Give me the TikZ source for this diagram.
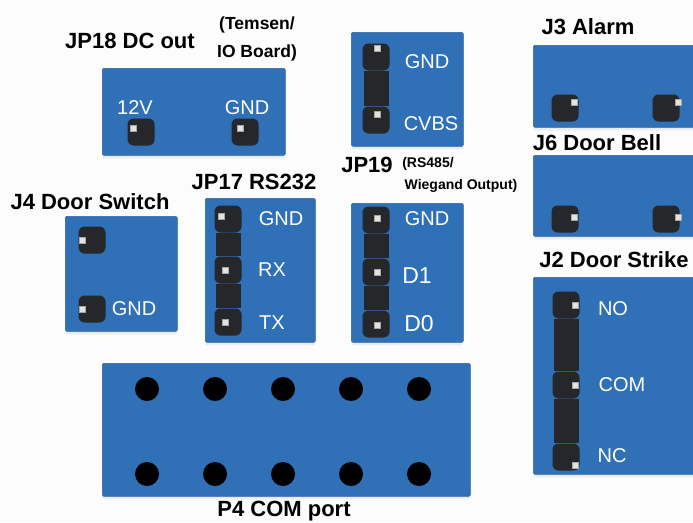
\documentclass[tikz,border=0pt]{standalone}
\usepackage{fontspec}
\setmainfont{Liberation Sans}
\usetikzlibrary{shadows}
\definecolor{boardblue}{HTML}{2F70B6}
\definecolor{headerblack}{HTML}{26272A}
\definecolor{pageback}{HTML}{FCFCFC}
\definecolor{tipgrey}{HTML}{E4E2DA}

\tikzset{
  board/.style={draw=boardblue!90!black, line width=0.6pt, fill=boardblue, rounded corners=1.5pt, anchor=north west, inner sep=0pt,
    drop shadow={opacity=0.12, shadow xshift=0pt, shadow yshift=-3pt}},
  header/.style={fill=headerblack, rounded corners=6pt, minimum width=27pt, minimum height=27pt, inner sep=0pt},
  pintip/.style={fill=tipgrey, draw=gray!70, line width=0.5pt, minimum size=6.5pt, inner sep=0pt},
  jumperbar/.style={draw=headerblack, line width=25pt},
  hole/.style={circle, fill=black, minimum size=24pt, inner sep=0pt},
  portname/.style={text=white, font=\fontsize{20}{20}\selectfont, inner sep=0pt},
  bigname/.style={text=black, font=\fontsize{22}{22}\selectfont\bfseries, inner sep=0pt},
  midname/.style={text=black, font=\fontsize{17.5}{17.5}\selectfont\bfseries, inner sep=0pt},
  smallname/.style={text=black, font=\fontsize{14}{14}\selectfont\bfseries, inner sep=0pt}
}

\begin{document}
\begin{tikzpicture}[x=1pt, y=-1pt]
  \useasboundingbox[fill=pageback] (0,0) rectangle (693,522);

  % JP18
  \node[board, minimum width=183pt, minimum height=87pt] (JP18) at (102,68) {};
  \node[header] (JP18V) at (141,132) {};
  \node[header] (JP18G) at (245,132) {};
  \node[pintip] (JP18VTip) at (133,128) {};
  \node[pintip] (JP18GTip) at (240,128) {};
  \node[portname] (JP18VText) at (135,108) {12V};
  \node[portname] (JP18GText) at (247,108) {GND};
  \node[bigname] (JP18Name) at (130,41) {JP18 DC out};
  \node[midname] (JP18NoteA) at (257,25) {(Temsen/};
  \node[midname] (JP18NoteB) at (257,53) {IO Board)};

  % JP19 upper
  \node[board, minimum width=112pt, minimum height=114pt] (JP19) at (351,32) {};
  \node[header] (JP19G) at (376,57) {};
  \node[header] (JP19C) at (376,120) {};
  \draw[jumperbar] (JP19G) -- (JP19C);
  \node[pintip] (JP19GTip) at (377,48) {};
  \node[pintip] (JP19CTip) at (377,114) {};
  \node[portname] (JP19GText) at (427,62) {GND};
  \node[portname] (JP19CText) at (431,124) {CVBS};
  \node[bigname] (JP19Name) at (367,165) {JP19};
  \node[smallname] (JP19NoteA) at (428,164) {(RS485/};
  \node[smallname] (JP19NoteB) at (461,186) {Wiegand Output)};

  % JP19 lower
  \node[board, minimum width=112pt, minimum height=139pt] (JPW) at (351,203) {};
  \node[header] (JPWG) at (376,220) {};
  \node[header] (JPWA) at (376,272) {};
  \node[header] (JPWB) at (376,324) {};
  \draw[jumperbar] (JPWG) -- (JPWA);
  \draw[jumperbar] (JPWA) -- (JPWB);
  \node[pintip] (JPWGTip) at (377,218) {};
  \node[pintip] (JPWATip) at (377,272) {};
  \node[pintip] (JPWBTip) at (377,325) {};
  \node[portname] (JPWGText) at (427,219) {GND};
  \node[portname, font=\fontsize{23}{23}\selectfont] (JPWAText) at (417,276) {D1};
  \node[portname, font=\fontsize{23}{23}\selectfont] (JPWBText) at (419,324) {D0};

  % JP17
  \node[board, minimum width=110pt, minimum height=144pt] (JP17) at (205,198) {};
  \node[header] (JP17G) at (228,219) {};
  \node[header] (JP17R) at (228,270) {};
  \node[header] (JP17T) at (228,322) {};
  \draw[jumperbar] (JP17G) -- (JP17R);
  \draw[jumperbar] (JP17R) -- (JP17T);
  \node[pintip] (JP17GTip) at (221,216) {};
  \node[pintip] (JP17RTip) at (225,270) {};
  \node[pintip] (JP17TTip) at (225,322) {};
  \node[portname] (JP17GText) at (281,219) {GND};
  \node[portname] (JP17RText) at (272,270) {RX};
  \node[portname] (JP17TText) at (272,323) {TX};
  \node[bigname] (JP17Name) at (254,182) {JP17 RS232};

  % J4
  \node[board, minimum width=112pt, minimum height=115pt] (J4) at (65,216) {};
  \node[header] (J4A) at (92,240) {};
  \node[header] (J4G) at (92,309) {};
  \node[pintip] (J4ATip) at (82,240) {};
  \node[pintip] (J4GTip) at (82,309) {};
  \node[portname] (J4GText) at (134,309) {GND};
  \node[bigname] (J4Name) at (90,202) {J4 Door Switch};

  % P4
  \node[board, minimum width=368pt, minimum height=133pt] (P4) at (102,363) {};
  \node[hole] (P4A) at (147,389) {};
  \node[hole] (P4B) at (215,389) {};
  \node[hole] (P4C) at (283,389) {};
  \node[hole] (P4D) at (351,389) {};
  \node[hole] (P4E) at (419,389) {};
  \node[hole] (P4F) at (147,474) {};
  \node[hole] (P4G) at (215,474) {};
  \node[hole] (P4H) at (283,474) {};
  \node[hole] (P4I) at (351,474) {};
  \node[hole] (P4J) at (419,474) {};
  \node[bigname] (P4Name) at (284,511) {P4 COM port};

  % J3
  \node[board, minimum width=165pt, minimum height=82pt] (J3) at (533,45) {};
  \node[header] (J3A) at (565,108) {};
  \node[header] (J3B) at (666,108) {};
  \node[pintip] (J3ATip) at (574,102) {};
  \node[pintip] (J3BTip) at (678,102) {};
  \node[bigname] (J3Name) at (588,27) {J3 Alarm};

  % J6
  \node[board, minimum width=165pt, minimum height=81pt] (J6) at (533,155) {};
  \node[header] (J6A) at (565,219) {};
  \node[header] (J6B) at (666,219) {};
  \node[pintip] (J6ATip) at (574,217) {};
  \node[pintip] (J6BTip) at (678,217) {};
  \node[bigname] (J6Name) at (597,143) {J6 Door Bell};

  % J2
  \node[board, minimum width=165pt, minimum height=197pt] (J2) at (533,277) {};
  \node[header] (J2A) at (566,305) {};
  \node[header] (J2C) at (566,385) {};
  \node[header] (J2B) at (566,457) {};
  \draw[jumperbar] (J2A) -- (J2C);
  \draw[jumperbar] (J2C) -- (J2B);
  \node[pintip] (J2ATip) at (575,305) {};
  \node[pintip] (J2CTip) at (575,385) {};
  \node[pintip] (J2BTip) at (575,465) {};
  \node[portname] (J2AText) at (613,309) {NO};
  \node[portname] (J2CText) at (622,385) {COM};
  \node[portname] (J2BText) at (612,456) {NC};
  \node[bigname] (J2Name) at (614,260) {J2 Door Strike};
\end{tikzpicture}
\end{document}
